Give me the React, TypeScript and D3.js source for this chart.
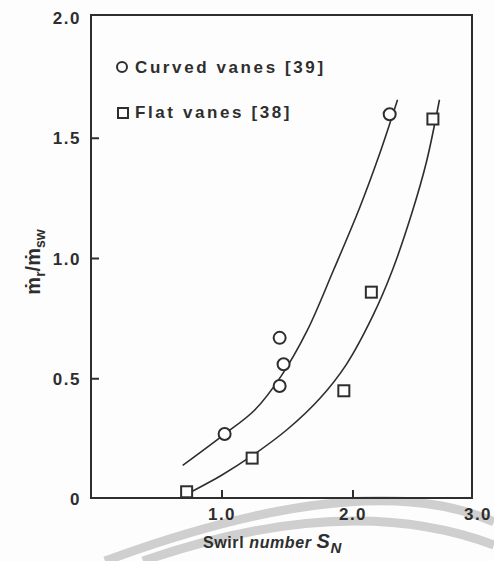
import React from 'react';
import * as d3 from 'd3';

const curvedX = [1.02, 1.44, 1.47, 1.44, 2.28];
const curvedY = [0.27, 0.67, 0.56, 0.47, 1.6];
const flatX = [0.73, 1.23, 1.93, 2.14, 2.61];
const flatY = [0.03, 0.17, 0.45, 0.86, 1.58];

// hand-drawn fit lines, sampled along the curve
const curvedFitX = [0.7, 1.02, 1.25, 1.45, 1.65, 1.85, 2.05, 2.2, 2.34];
const curvedFitY = [0.14, 0.27, 0.37, 0.51, 0.7, 0.95, 1.21, 1.43, 1.66];
const flatFitX = [0.73, 1.0, 1.23, 1.5, 1.75, 1.95, 2.15, 2.3, 2.45, 2.56, 2.66];
const flatFitY = [0.02, 0.1, 0.18, 0.29, 0.42, 0.56, 0.76, 0.95, 1.19, 1.4, 1.66];

const yTicks = [0, 0.5, 1.0, 1.5, 2.0];
const yTickLabels = ['0', '0.5', '1.0', '1.5', '2.0'];
const xTicks = [1.0, 2.0, 3.0];
const xTickLabels = ['1.0', '2.0', '3.0'];

const legendLabels = ['Curved vanes [39]', 'Flat vanes [38]'];

const W = 494;
const H = 561;
const ink = '#2e2e2e';
const font = '"Liberation Sans", Arial, sans-serif';

export default function App() {
  const left = 91;
  const right = 472;
  const top = 15;
  const bottom = 498;

  const x = d3.scaleLinear().domain([0, 1]).range([left, left + 131]);
  const y = d3.scaleLinear().domain([0, 2]).range([499, 18]);

  const line = d3
    .line<[number, number]>()
    .x((d) => x(d[0]))
    .y((d) => y(d[1]))
    .curve(d3.curveCatmullRom.alpha(0.5));

  const curvedFit = curvedFitX.map((v, i) => [v, curvedFitY[i]] as [number, number]);
  const flatFit = flatFitX.map((v, i) => [v, flatFitY[i]] as [number, number]);

  // faint arcs of the scanner watermark
  const arc1 = d3.path();
  arc1.moveTo(105, 561);
  arc1.quadraticCurveTo(366, 465, 494, 522);
  const arc2 = d3.path();
  arc2.moveTo(143, 561);
  arc2.quadraticCurveTo(348, 490, 494, 545);

  const sq = 11;

  return (
    <svg
      width={W}
      height={H}
      style={{ position: 'absolute', left: 0, top: 0, background: '#fff' }}
      fontFamily={font}
    >
      <rect width={W} height={H} fill="#fdfdfd" />
      <path d={arc1.toString()} fill="none" stroke="#cfcfcf" strokeWidth={9} />
      <path d={arc2.toString()} fill="none" stroke="#cfcfcf" strokeWidth={9} />

      {/* frame */}
      <rect
        x={left}
        y={top}
        width={right - left}
        height={bottom - top}
        fill="none"
        stroke={ink}
        strokeWidth={2}
      />

      {/* y ticks */}
      {yTicks.map((t, i) => (
        <g key={'y' + i}>
          {t > 0 && t < 2 && (
            <line x1={left} x2={left + 8} y1={y(t)} y2={y(t)} stroke={ink} strokeWidth={2} />
          )}
          <text
            x={left - 10}
            y={y(t) + 6}
            textAnchor="end"
            fontSize={17}
            fontWeight="bold"
            letterSpacing={1.5}
            fill={ink}
          >
            {yTickLabels[i]}
          </text>
        </g>
      ))}

      {/* x ticks */}
      {xTicks.map((t, i) => (
        <g key={'x' + i}>
          {t < 3 && (
            <line x1={x(t)} x2={x(t)} y1={bottom} y2={bottom - 8} stroke={ink} strokeWidth={2} />
          )}
          <text
            x={Math.min(x(t), right + 6)}
            y={bottom + 22}
            textAnchor="middle"
            fontSize={17}
            fontWeight="bold"
            letterSpacing={1.5}
            fill={ink}
          >
            {xTickLabels[i]}
          </text>
        </g>
      ))}

      {/* fit lines */}
      <path d={line(curvedFit) || ''} fill="none" stroke={ink} strokeWidth={1.6} />
      <path d={line(flatFit) || ''} fill="none" stroke={ink} strokeWidth={1.6} />

      {/* markers */}
      {curvedX.map((v, i) => (
        <circle
          key={'c' + i}
          cx={x(v)}
          cy={y(curvedY[i])}
          r={6}
          fill="#fff"
          stroke={ink}
          strokeWidth={2}
        />
      ))}
      {flatX.map((v, i) => (
        <rect
          key={'s' + i}
          x={x(v) - sq / 2}
          y={y(flatY[i]) - sq / 2}
          width={sq}
          height={sq}
          fill="#fff"
          stroke={ink}
          strokeWidth={2}
        />
      ))}

      {/* legend */}
      <circle cx={122} cy={67} r={5} fill="none" stroke={ink} strokeWidth={2} />
      <text x={135} y={73} fontSize={17} fontWeight="bold" letterSpacing={2.6} fill={ink}>
        {legendLabels[0]}
      </text>
      <rect x={118} y={108} width={10} height={10} fill="none" stroke={ink} strokeWidth={2} />
      <text x={135} y={118} fontSize={17} fontWeight="bold" letterSpacing={2.6} fill={ink}>
        {legendLabels[1]}
      </text>

      {/* x axis title */}
      <text x={203} y={548} fontSize={16} fontWeight="bold" fill={ink} letterSpacing={0.6}>
        <tspan>Swirl </tspan>
        <tspan fontStyle="italic">number </tspan>
        <tspan fontStyle="italic" fontSize={20}>S</tspan>
        <tspan fontStyle="italic" fontSize={15} dy={5}>N</tspan>
      </text>

      {/* y axis title */}
      <g transform="translate(40,262) rotate(-90)">
        <text textAnchor="middle" fontSize={20} fontWeight="bold" fill={ink}>
          <tspan>ṁ</tspan>
          <tspan fontSize={14} dy={5}>r</tspan>
          <tspan dy={-5}>/ṁ</tspan>
          <tspan fontSize={14} dy={5}>sw</tspan>
        </text>
      </g>
    </svg>
  );
}
